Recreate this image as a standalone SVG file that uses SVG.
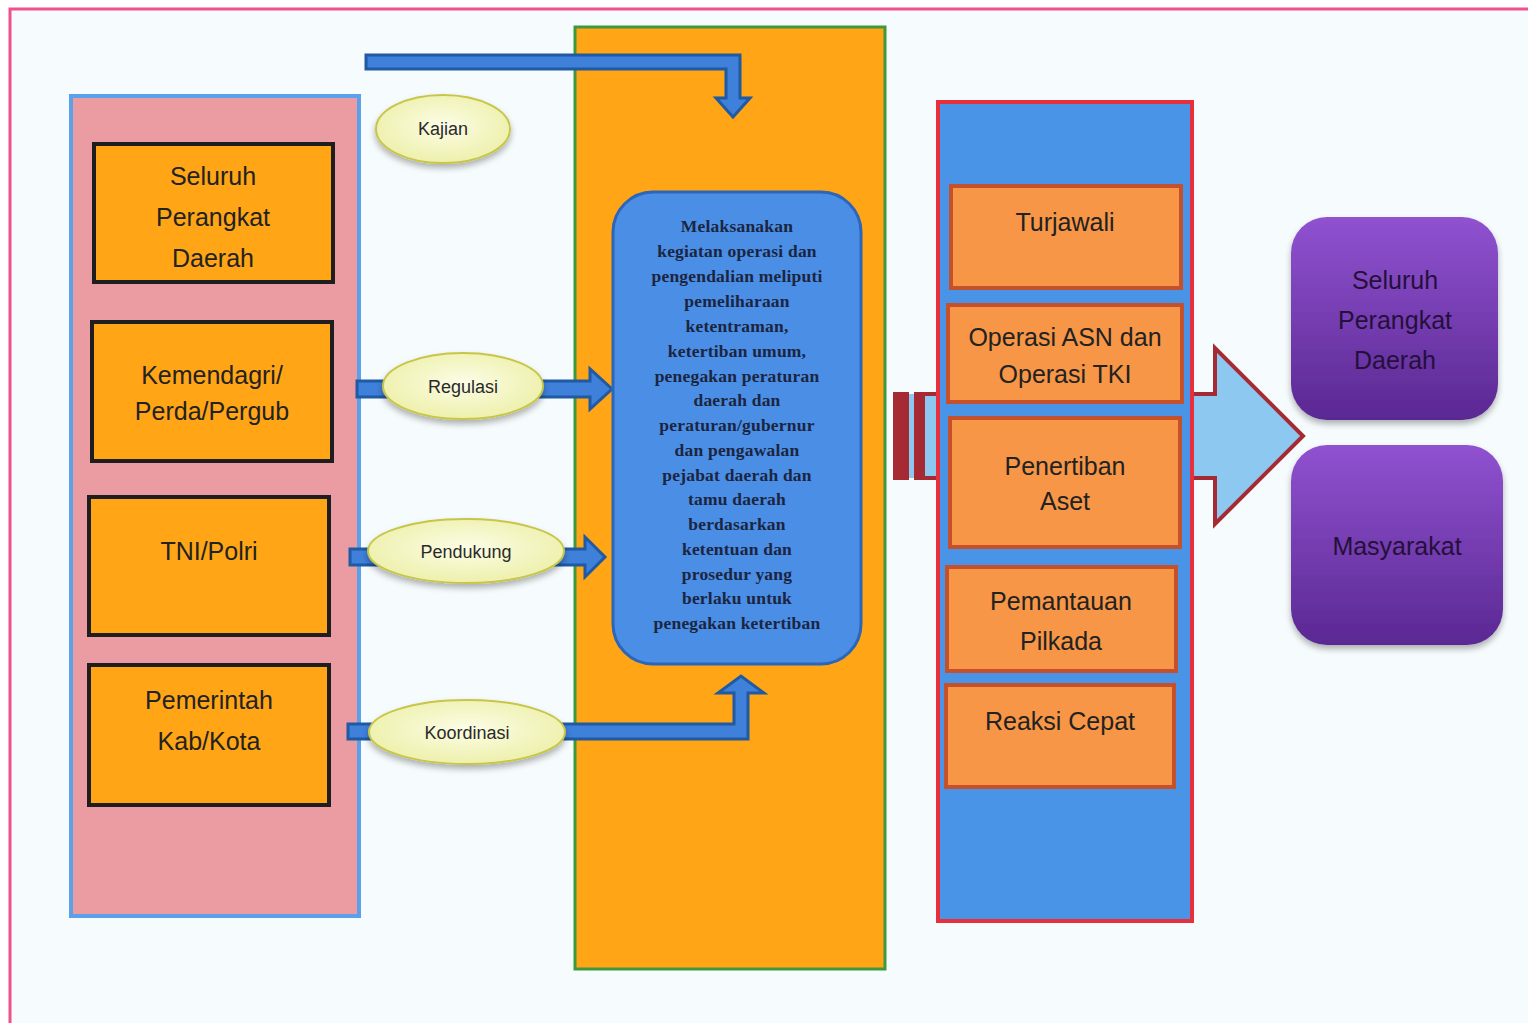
<svg xmlns="http://www.w3.org/2000/svg" width="1528" height="1023" viewBox="0 0 1528 1023">
<defs>
<style>
.lbl{font-family:"Liberation Sans",Arial,sans-serif;font-size:25px;fill:#222;text-anchor:middle}
.ell{font-family:"Liberation Sans",Arial,sans-serif;font-size:18px;fill:#2a2a2a;text-anchor:middle}
.mid{font-family:"Liberation Serif","Times New Roman",serif;font-size:17.5px;font-weight:bold;fill:#1c2540;text-anchor:middle;letter-spacing:0.2px}
.pur{font-family:"Liberation Sans",Arial,sans-serif;font-size:25px;fill:#24103a;text-anchor:middle}
.obox{fill:#ffa516;stroke:#1e1e1e;stroke-width:4}
.rbox{fill:#f79646;stroke:#c4502c;stroke-width:4}
.arr{fill:#3f80da;stroke:#1f5aa2;stroke-width:3;stroke-linejoin:miter}
.oval{fill:url(#eg);stroke:#c8c64a;stroke-width:2;filter:url(#sh)}
</style>
<radialGradient id="eg" cx="50%" cy="45%" r="60%">
<stop offset="0" stop-color="#fcfde6"/>
<stop offset="1" stop-color="#ecefa6"/>
</radialGradient>
<linearGradient id="pg" x1="0" y1="0" x2="0" y2="1">
<stop offset="0" stop-color="#9052d0"/>
<stop offset="1" stop-color="#5a2892"/>
</linearGradient>
<filter id="sh" x="-20%" y="-20%" width="140%" height="160%">
<feDropShadow dx="0" dy="4" stdDeviation="3" flood-color="#000" flood-opacity="0.3"/>
</filter>
</defs>
<rect x="0" y="0" width="1528" height="1023" fill="#ffffff"/>
<rect x="10" y="9" width="1540" height="1040" fill="#f6fbfd" stroke="#f0508c" stroke-width="3"/>

<g id="panel-left">
<rect x="71" y="96" width="288" height="820" fill="#eb9ca2" stroke="#5aa0ea" stroke-width="4"/>
</g>
<g id="panel-mid">
<rect x="575" y="27" width="310" height="942" fill="#ffa516" stroke="#3c9a3c" stroke-width="3"/>
</g>

<g id="connectors">
<path class="arr" d="M366,55 H740 V98 H750 L733,117 L716,98 H726 V69 H366 Z"/>
<path class="arr" d="M357,381 H590 V369 L612,389 L590,409 V397 H357 Z"/>
<path class="arr" d="M350,549 H585 V537 L605,557 L585,577 V565 H350 Z"/>
<path class="arr" d="M348,724 H734 V693 H718 L741,676 L764,693 H748 V739 H348 Z"/>
<g id="striped-arrow">
<rect x="893" y="392" width="16" height="88" fill="#a52a34"/>
<rect x="909" y="394" width="5" height="84" fill="#8cc8f0"/>
<rect x="914" y="392" width="9" height="88" fill="#a52a34"/>
<path d="M923,394 H1215 V348 L1303,436 L1215,524 V478 H923 Z" fill="#8cc8f0" stroke="#a52a34" stroke-width="4"/>
</g>
</g>

<g id="panel-right">
<rect x="938" y="102" width="254" height="819" fill="#4a94e8" stroke="#e8303c" stroke-width="4"/>
</g>

<g id="n-seluruh">
<rect class="obox" x="94" y="144" width="239" height="138"/>
<text class="lbl" x="213" y="185">Seluruh</text>
<text class="lbl" x="213" y="226">Perangkat</text>
<text class="lbl" x="213" y="267">Daerah</text>
</g>
<g id="n-kemendagri">
<rect class="obox" x="92" y="322" width="240" height="139"/>
<text class="lbl" x="212" y="384">Kemendagri/</text>
<text class="lbl" x="212" y="420">Perda/Pergub</text>
</g>
<g id="n-tni">
<rect class="obox" x="89" y="497" width="240" height="138"/>
<text class="lbl" x="209" y="560">TNI/Polri</text>
</g>
<g id="n-pemerintah">
<rect class="obox" x="89" y="665" width="240" height="140"/>
<text class="lbl" x="209" y="709">Pemerintah</text>
<text class="lbl" x="209" y="750">Kab/Kota</text>
</g>

<g id="n-kajian">
<ellipse class="oval" cx="443" cy="129" rx="67" ry="34"/>
<text class="ell" x="443" y="135">Kajian</text>
</g>
<g id="n-regulasi">
<ellipse class="oval" cx="463" cy="386" rx="80" ry="33"/>
<text class="ell" x="463" y="393">Regulasi</text>
</g>
<g id="n-pendukung">
<ellipse class="oval" cx="466" cy="551" rx="98" ry="32"/>
<text class="ell" x="466" y="558">Pendukung</text>
</g>
<g id="n-koordinasi">
<ellipse class="oval" cx="467" cy="732" rx="98" ry="32"/>
<text class="ell" x="467" y="739">Koordinasi</text>
</g>

<g id="n-melaksanakan">
<rect x="613" y="192" width="248" height="472" rx="40" ry="40" fill="#4a8ee6" stroke="#2c66b8" stroke-width="3"/>
<text class="mid" x="737" y="232">Melaksanakan</text>
<text class="mid" x="737" y="257">kegiatan operasi dan</text>
<text class="mid" x="737" y="282">pengendalian meliputi</text>
<text class="mid" x="737" y="307">pemeliharaan</text>
<text class="mid" x="737" y="332">ketentraman,</text>
<text class="mid" x="737" y="357">ketertiban umum,</text>
<text class="mid" x="737" y="382">penegakan peraturan</text>
<text class="mid" x="737" y="406">daerah dan</text>
<text class="mid" x="737" y="431">peraturan/gubernur</text>
<text class="mid" x="737" y="456">dan pengawalan</text>
<text class="mid" x="737" y="481">pejabat daerah dan</text>
<text class="mid" x="737" y="505">tamu daerah</text>
<text class="mid" x="737" y="530">berdasarkan</text>
<text class="mid" x="737" y="555">ketentuan dan</text>
<text class="mid" x="737" y="580">prosedur yang</text>
<text class="mid" x="737" y="604">berlaku untuk</text>
<text class="mid" x="737" y="629">penegakan ketertiban</text>
</g>

<g id="n-turjawali">
<rect class="rbox" x="951" y="186" width="230" height="102"/>
<text class="lbl" x="1065" y="231">Turjawali</text>
</g>
<g id="n-operasi">
<rect class="rbox" x="948" y="305" width="234" height="97"/>
<text class="lbl" x="1065" y="346">Operasi ASN dan</text>
<text class="lbl" x="1065" y="383">Operasi TKI</text>
</g>
<g id="n-penertiban">
<rect class="rbox" x="950" y="418" width="230" height="129"/>
<text class="lbl" x="1065" y="475">Penertiban</text>
<text class="lbl" x="1065" y="510">Aset</text>
</g>
<g id="n-pemantauan">
<rect class="rbox" x="947" y="567" width="229" height="104"/>
<text class="lbl" x="1061" y="610">Pemantauan</text>
<text class="lbl" x="1061" y="650">Pilkada</text>
</g>
<g id="n-reaksi">
<rect class="rbox" x="946" y="685" width="228" height="102"/>
<text class="lbl" x="1060" y="730">Reaksi Cepat</text>
</g>

<g id="n-pd-out">
<rect x="1291" y="217" width="207" height="203" rx="36" ry="36" fill="url(#pg)" filter="url(#sh)"/>
<text class="pur" x="1395" y="289">Seluruh</text>
<text class="pur" x="1395" y="329">Perangkat</text>
<text class="pur" x="1395" y="369">Daerah</text>
</g>
<g id="n-masyarakat">
<rect x="1291" y="445" width="212" height="200" rx="36" ry="36" fill="url(#pg)" filter="url(#sh)"/>
<text class="pur" x="1397" y="555">Masyarakat</text>
</g>
</svg>
